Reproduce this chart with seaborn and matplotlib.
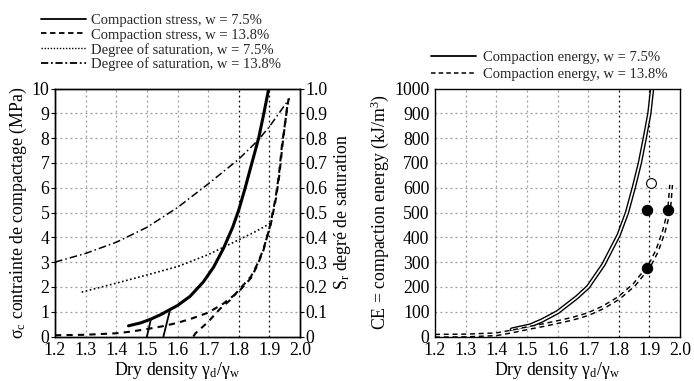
import matplotlib
matplotlib.use("Agg")
import matplotlib.pyplot as plt
from matplotlib.lines import Line2D
import seaborn as sns

# ---------------- data ----------------
# Left panel: compaction stress (MPa)
cs75_x = [1.44, 1.48, 1.511, 1.545, 1.576, 1.60, 1.641, 1.685, 1.718, 1.75, 1.78, 1.80, 1.82, 1.843, 1.865, 1.882, 1.898]
cs75_y = [0.43, 0.55, 0.69, 0.88, 1.09, 1.25, 1.62, 2.21, 2.80, 3.55, 4.40, 5.10, 5.95, 7.00, 8.00, 9.00, 10.0]
branch1_x = [1.500, 1.507, 1.513]
branch1_y = [0.0, 0.35, 0.70]
branch2_x = [1.554, 1.565, 1.576]
branch2_y = [0.0, 0.55, 1.09]

cs138_x = [1.20, 1.30, 1.40, 1.45, 1.50, 1.55, 1.60, 1.65, 1.70, 1.75, 1.80, 1.84, 1.86, 1.88, 1.903, 1.92, 1.931, 1.941, 1.958, 1.963]
cs138_y = [0.05, 0.07, 0.13, 0.20, 0.30, 0.41, 0.55, 0.74, 0.96, 1.33, 1.81, 2.36, 2.85, 3.45, 4.50, 5.57, 6.50, 7.70, 9.20, 9.60]
branch3_x = [1.652, 1.658, 1.70, 1.74, 1.772, 1.80, 1.84, 1.86, 1.88, 1.905, 1.922, 1.933, 1.943, 1.958]
branch3_y = [0.0, 0.12, 0.59, 1.13, 1.47, 1.87, 2.42, 2.90, 3.50, 4.55, 5.60, 6.55, 7.75, 9.25]

# Left panel: degree of saturation (right axis, 0-1)
sr75_x = [1.287, 1.40, 1.50, 1.60, 1.70, 1.75, 1.80, 1.85, 1.903]
sr75_y = [0.179, 0.215, 0.248, 0.282, 0.33, 0.36, 0.39, 0.42, 0.456]
sr138_x = [1.20, 1.30, 1.40, 1.50, 1.60, 1.70, 1.80, 1.862, 1.90, 1.966]
sr138_y = [0.30, 0.335, 0.38, 0.44, 0.52, 0.615, 0.715, 0.79, 0.846, 0.96]

# Right panel: compaction energy (kJ/m3)
ce75_x = [1.451, 1.511, 1.55, 1.60, 1.663, 1.70, 1.75, 1.80, 1.827, 1.849, 1.869, 1.885, 1.90, 1.909]
ce75_y = [28, 44, 65, 98, 158, 200, 290, 410, 500, 600, 700, 800, 900, 1000]
ce138_x = [1.20, 1.30, 1.40, 1.45, 1.50, 1.55, 1.60, 1.65, 1.70, 1.75, 1.80, 1.85, 1.90, 1.925, 1.947, 1.964, 1.971]
ce138_y = [3, 4, 9, 20, 33, 45, 58, 72, 90, 118, 155, 208, 285, 345, 423, 504, 611]
pts_filled_x = [1.893, 1.962, 1.891]
pts_filled_y = [510, 510, 278]
pts_open_x = [1.904]
pts_open_y = [618]

x_ticks = [1.2, 1.3, 1.4, 1.5, 1.6, 1.7, 1.8, 1.9, 2.0]
x_ticklabels = ["1.2", "1.3", "1.4", "1.5", "1.6", "1.7", "1.8", "1.9", "2.0"]
ls_ticks = list(range(0, 11))
rs_ticks = [0, 0.1, 0.2, 0.3, 0.4, 0.5, 0.6, 0.7, 0.8, 0.9, 1.0]
rs_ticklabels = ["0", "0.1", "0.2", "0.3", "0.4", "0.5", "0.6", "0.7", "0.8", "0.9", "1.0"]
ce_ticks = list(range(0, 1001, 100))

labL = ["Compaction stress, w = 7.5%", "Compaction stress, w = 13.8%",
        "Degree of saturation, w = 7.5%", "Degree of saturation, w = 13.8%"]
labR = ["Compaction energy, w = 7.5%", "Compaction energy, w = 13.8%"]

# ---------------- style ----------------
sns.set_theme(style="white")
plt.rcParams['font.family'] = ['Liberation Serif', 'DejaVu Serif']
plt.rcParams['mathtext.fontset'] = 'custom'
plt.rcParams['mathtext.rm'] = 'Liberation Serif'
plt.rcParams['mathtext.it'] = 'Liberation Serif:italic'
plt.rcParams['mathtext.default'] = 'regular'

W, H = 694, 381
fig = plt.figure(figsize=(W / 100, H / 100), dpi=100)
fig.patch.set_facecolor("white")

TICK_FS = 12.8
LAB_FS = 12.8
LEG_FS = 10.5


def fx(px):
    return px / W


def fy(py):
    return 1 - py / H


axL = fig.add_axes([fx(55), fy(336.5), fx(300) - fx(55), fy(88.5) - fy(336.5)])
axR = fig.add_axes([fx(435), fy(336.5), fx(680) - fx(435), fy(88.5) - fy(336.5)])


def style_axes(ax):
    ax.set_facecolor("white")
    for s in ax.spines.values():
        s.set_color("black")
        s.set_linewidth(1.0)
    ax.set_xlim(1.2, 2.0)
    ax.set_xticks(x_ticks)
    ax.set_xticklabels(x_ticklabels)
    ax.tick_params(axis='both', direction='out', length=3, width=0.8, color='black',
                   labelsize=TICK_FS, pad=1, labelcolor='black')
    ax.grid(False)
    for xv in x_ticks[1:-1]:
        dark = xv in (1.8, 1.9)
        ax.axvline(xv, color='black' if dark else '#9a9a9a', lw=0.9,
                   ls=(0, (1.5, 2.5)), zorder=0.5)
    for yt in ax.get_yticks()[1:-1]:
        ax.axhline(yt, color='#9a9a9a', lw=0.9, ls=(0, (1.5, 2.5)), zorder=0.5)


def line(ax, xs, ys, **kw):
    sns.lineplot(x=xs, y=ys, ax=ax, sort=False, estimator=None, legend=False, **kw)


# ---------------- left panel ----------------
axL.set_ylim(0, 10)
axL.set_yticks(ls_ticks)
style_axes(axL)

line(axL, cs75_x, cs75_y, color='black', lw=2.2)
line(axL, branch1_x, branch1_y, color='black', lw=1.3)
line(axL, branch2_x, branch2_y, color='black', lw=1.3)
line(axL, cs138_x, cs138_y, color='black', lw=1.5, dashes=(3, 2.5))
line(axL, branch3_x, branch3_y, color='black', lw=1.5, dashes=(3, 2.5))

axL2 = axL.twinx()
axL2.set_ylim(0, 1)
axL2.set_yticks(rs_ticks)
axL2.set_yticklabels(rs_ticklabels)
axL2.tick_params(axis='y', direction='out', length=3, width=0.8, labelsize=TICK_FS, pad=1,
                 labelcolor='black', color='black')
for s in axL2.spines.values():
    s.set_color("black")
    s.set_linewidth(1.0)
axL2.grid(False)
line(axL2, sr75_x, sr75_y, color='black', lw=1.2, dashes=(1, 1.5))
line(axL2, sr138_x, sr138_y, color='black', lw=1.1, dashes=(5, 2, 1, 2))

axL.set_xlabel("Dry density γ$_{d}$/γ$_{w}$", fontsize=LAB_FS, labelpad=1, color='black')
axL.set_ylabel("σ$_{c}$ contrainte de compactage (MPa)", fontsize=LAB_FS, labelpad=2, color='black')
axL2.set_ylabel("S$_{r}$ degré de saturation", fontsize=LAB_FS, labelpad=3, color='black')

hL = [Line2D([], [], color='black', lw=1.3),
      Line2D([], [], color='black', lw=1.3, dashes=(3, 2)),
      Line2D([], [], color='black', lw=1.0, dashes=(1, 1.2)),
      Line2D([], [], color='black', lw=1.3, dashes=(4, 1.5, 1, 1.5))]
fig.legend(hL, labL, loc='upper left', bbox_to_anchor=(fx(41), fy(14)), frameon=False,
           fontsize=LEG_FS, handlelength=3.1, handletextpad=0.35, labelspacing=0.08,
           borderpad=0, borderaxespad=0)

# ---------------- right panel ----------------
axR.set_ylim(0, 1000)
axR.set_yticks(ce_ticks)
style_axes(axR)

line(axR, ce75_x, ce75_y, color='black', lw=3.2)
line(axR, ce75_x, ce75_y, color='white', lw=1.2)
line(axR, ce138_x, ce138_y, color='black', lw=3.0, dashes=(1.2, 0.9))
line(axR, ce138_x, ce138_y, color='white', lw=0.9)
sns.scatterplot(x=pts_filled_x, y=pts_filled_y, ax=axR, color='black', s=55, edgecolor='black',
                linewidth=0.8, zorder=5, legend=False)
sns.scatterplot(x=pts_open_x, y=pts_open_y, ax=axR, color='white', s=50, edgecolor='black',
                linewidth=0.8, zorder=5, legend=False)

axR.set_xlabel("Dry density γ$_{d}$/γ$_{w}$", fontsize=LAB_FS, labelpad=1, color='black')
axR.set_ylabel("CE = compaction energy (kJ/m$^{3}$)", fontsize=LAB_FS, labelpad=2, color='black')

hR = [Line2D([], [], color='black', lw=1.3),
      Line2D([], [], color='black', lw=1.1, dashes=(3, 2))]
fig.legend(hR, labR, loc='upper left', bbox_to_anchor=(fx(431), fy(51)), frameon=False,
           fontsize=LEG_FS, handlelength=3.1, handletextpad=0.45, labelspacing=0.25,
           borderpad=0, borderaxespad=0)

fig.savefig("out.png", dpi=100, facecolor="white")
